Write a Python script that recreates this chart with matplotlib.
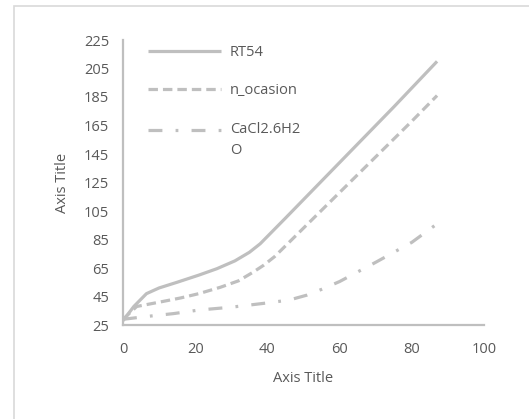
import matplotlib
matplotlib.use("Agg")
import matplotlib.pyplot as plt
from matplotlib.patches import Rectangle
from matplotlib.legend_handler import HandlerLine2D

plt.rcParams['font.family'] = ['Open Sans', 'DejaVu Sans']
plt.rcParams['lines.scale_dashes'] = False

x_rt54 = [0, 3, 6.5, 10, 15, 21, 26, 31, 35, 38, 45, 55, 65, 75, 87]
y_rt54 = [28, 38, 47, 51, 55, 60, 64.5, 70, 76, 82, 100, 126, 152, 178, 210]

x_noc = [0, 3.8, 10, 16, 21, 27, 32, 36, 39, 42, 50, 60, 70, 80, 87]
y_noc = [29, 38, 41, 44, 47, 51.5, 56, 62, 67, 73, 93, 118, 143, 168, 186]

x_cacl = [0, 6.6, 14, 21, 30, 40, 46, 51, 55, 60, 70, 80, 87]
y_cacl = [29, 31, 33, 35.5, 37.5, 40.5, 42.5, 46, 50, 55.5, 69, 83, 96]

x_ticks = [0, 20, 40, 60, 80, 100]
y_ticks = [25, 45, 65, 85, 105, 125, 145, 165, 185, 205, 225]

labels = ['RT54', 'n_ocasion', 'CaCl2.6H2\nO']


class HandlerRaised(HandlerLine2D):
    def __init__(self, shift, **kw):
        super().__init__(**kw)
        self.shift = shift

    def create_artists(self, legend, orig_handle, xdescent, ydescent,
                       width, height, fontsize, trans):
        return super().create_artists(legend, orig_handle, xdescent,
                                      ydescent - self.shift, width, height,
                                      fontsize, trans)


W, H = 529, 419
fs = 10.5
fig = plt.figure(figsize=(W / 100, H / 100), dpi=100)
fig.patches.append(Rectangle((14 / W, -0.1), 1.2, 1 - 6 / H + 0.1, transform=fig.transFigure,
                             fill=False, edgecolor='#d9d9d9', linewidth=1.2))
ax = fig.add_axes([123 / W, 1 - 325 / H, (484 - 123) / W, (325 - 40) / H])

col = '#bfbfbf'
lw = 2.3
ax.plot(x_rt54, y_rt54, color=col, lw=lw, label=labels[0], solid_capstyle='butt')
ax.plot(x_noc, y_noc, color=col, lw=lw, dashes=(6.8, 3.6), label=labels[1])
l3, = ax.plot(x_cacl, y_cacl, color=col, lw=lw, dashes=(10, 9.5, 2, 9.5), label=labels[2])

ax.set_xlim(0, 100)
ax.set_ylim(25, 225)
ax.set_xticks(x_ticks)
ax.set_yticks(y_ticks)
for s in ['top', 'right']:
    ax.spines[s].set_visible(False)
for s in ['left', 'bottom']:
    ax.spines[s].set_color('#bfbfbf')
    ax.spines[s].set_linewidth(1.6)
ax.tick_params(length=0, labelsize=fs, labelcolor='#595959')
ax.tick_params(axis='x', pad=12.5)
ax.tick_params(axis='y', pad=10)
ax.set_facecolor('none')
fig.patch.set_facecolor('white')

ax.set_xlabel('Axis Title', fontsize=fs, color='#595959', labelpad=10)
ax.set_ylabel('Axis Title', fontsize=fs, color='#595959', labelpad=10)

leg = ax.legend(loc='upper left', bbox_to_anchor=(0.033, 1.028), frameon=False,
                handlelength=5.0, handletextpad=0.6, labelspacing=1.6, fontsize=fs,
                handler_map={l3: HandlerRaised(shift=15)})
for t in leg.get_texts():
    t.set_color('#595959')
    t.set_linespacing(1.6)

fig.savefig('out.png', dpi=100)
